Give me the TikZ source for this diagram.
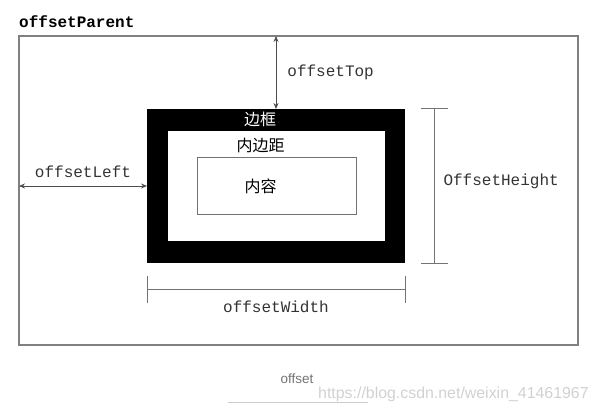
\documentclass[tikz,border=0pt]{standalone}
\usepackage{fontspec}
\setmonofont{Liberation Mono}
\setsansfont{Liberation Sans}
\newfontfamily\cjk{Noto Sans CJK SC}
\usetikzlibrary{arrows.meta,positioning}

\begin{document}
\begin{tikzpicture}[x=1pt,y=-1pt,
    box/.style={rectangle,inner sep=0pt,outer sep=0pt},
    lbl/.style={font=\ttfamily\fontsize{16}{16}\selectfont,text=black!80,inner sep=0pt},
    cjklbl/.style={font=\cjk\fontsize{16}{16}\selectfont,inner sep=0pt},
    arr/.style={{Stealth[length=6pt,width=5pt]}-{Stealth[length=6pt,width=5pt]},draw=black!70,line width=0.8pt},
    dim/.style={draw=black!55,line width=1pt}]
	\useasboundingbox (0,0) rectangle (598,412);
	%
	% boxes
	\node[box,draw=black!50,line width=1.2pt,minimum width=559pt,minimum height=309pt] (parent) at (298.5,190.5) {};
	\node[box,fill=black,minimum width=258pt,minimum height=154pt] (border) at (276,186) {};
	\node[box,fill=white,minimum width=217pt,minimum height=110pt] (padding) at (276.5,186) {};
	\node[box,draw=black!55,line width=1pt,minimum width=159pt,minimum height=56pt] (content) at (276.5,186) {};
	%
	\node[lbl,font=\ttfamily\bfseries\fontsize{16}{16}\selectfont,text=black,anchor=base west] (ptitle) at ([yshift=8pt]parent.north west) {offsetParent};
	\node[cjklbl,text=white] (bname) at ([xshift=-16pt,yshift=-10pt]border.north) {边框};
	\node[cjklbl] (pname) at ([xshift=-16pt,yshift=-14pt]padding.north) {内边距};
	\node[cjklbl] (cname) at ([xshift=-16pt]content.center) {内容};
	%
	% offsets
	\draw[arr] (parent.north -| border.north) -- node[lbl,right=11pt] {offsetTop} (border.north);
	\draw[arr] (parent.west |- border.west) -- node[lbl,above=8pt] {offsetLeft} (border.west);
	%
	\coordinate[right=29pt of border.north east] (ht);
	\coordinate[right=29pt of border.south east] (hb);
	\draw[dim] (ht) -- node[lbl,right=9pt,yshift=5pt] {OffsetHeight} (hb);
	\draw[dim] ([xshift=-13pt]ht) -- ([xshift=14pt]ht);
	\draw[dim] ([xshift=-13pt]hb) -- ([xshift=14pt]hb);
	%
	\coordinate[below=26pt of border.south west] (wl);
	\coordinate[below=26pt of border.south east] (wr);
	\draw[dim] (wl) -- node[lbl,below=11pt] {offsetWidth} (wr);
	\draw[dim] ([yshift=13pt]wl) -- ([yshift=-14pt]wl);
	\draw[dim] ([yshift=13pt]wr) -- ([yshift=-14pt]wr);
	%
	% caption
	\node[font=\sffamily\fontsize{13.5}{13.5}\selectfont,text=black!55,inner sep=0pt] (cap) at (297,379) {offset};
	\draw[black!20,line width=0.8pt] (228,402) -- (368,402);
	\node[font=\sffamily\fontsize{15.9}{15.9}\selectfont,text=black!18,inner sep=0pt,anchor=west] (mark) at (318,394) {https://blog.csdn.net/weixin\_41461967};
\end{tikzpicture}
\end{document}
